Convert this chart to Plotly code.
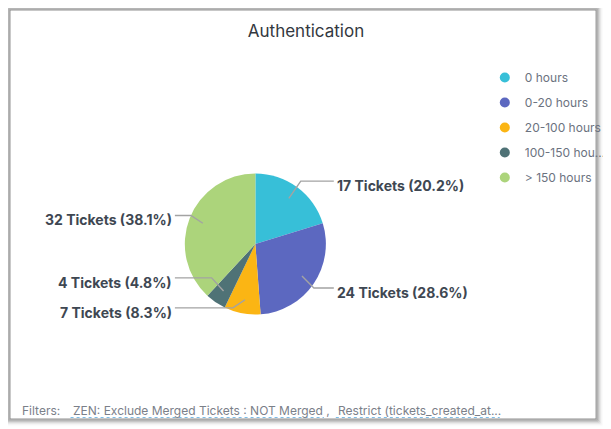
import math
import plotly.graph_objects as go

# ---------------- data ----------------
categories = ["0 hours", "0-20 hours", "20-100 hours", "100-150 hours", "> 150 hours"]
legend_labels = ["0 hours", "0-20 hours", "20-100 hours", "100-150 hou…", "> 150 hours"]
tickets = [17, 24, 7, 4, 32]
colors = ["#37bfd8", "#5c68c0", "#fbb514", "#4f7276", "#acd47b"]
title_text = "Authentication"
filter_label = "Filters:"
filters = ["ZEN: Exclude Merged Tickets : NOT Merged ,", "Restrict (tickets_created_at..."]

# ---------------- layout constants (page pixels) ----------------
PAGE_W, PAGE_H = 611, 429
OFF = 8                      # default body margin of the html page
W, H = PAGE_W - OFF, PAGE_H - OFF
CX, CY, R = 257, 244, 71
FONT = "Inter, 'Liberation Sans', Arial, sans-serif"


def fx(px):
    return (px - OFF) / W


def fy(py):
    return 1 - (py - OFF) / H


total = sum(tickets)
fig = go.Figure()

fig.add_trace(go.Pie(
    labels=categories, values=tickets, sort=False, direction="clockwise", rotation=0,
    marker=dict(colors=colors, line=dict(width=0)),
    textinfo="none", hoverinfo="label+value+percent", showlegend=False,
    domain=dict(x=[fx(CX - R), fx(CX + R)], y=[fy(CY + R), fy(CY - R)]),
))

# legend entries (circle symbols)
for name, col in zip(legend_labels, colors):
    fig.add_trace(go.Scatter(x=[None], y=[None], mode="markers", name=name, legendgroup=name,
                             marker=dict(color=col, size=10, symbol="circle"), hoverinfo="skip"))

shapes = []
annotations = []

# card frame with soft shadow
shadow = [(0, "rgba(125,125,125,0.85)"), (1, "rgba(130,130,130,0.8)"), (2, "rgba(140,140,140,0.7)"),
          (3, "rgba(155,155,155,0.5)"), (4, "rgba(170,170,170,0.35)"), (5, "rgba(190,190,190,0.22)"),
          (6, "rgba(210,210,210,0.14)"), (7, "rgba(230,230,230,0.08)")]
for off, col in shadow:
    shapes.append(dict(type="rect", xref="x", yref="y", x0=10 - off, x1=600 + off, y0=10 - off, y1=419 + off,
                       line=dict(color=col, width=1), layer="below"))

# data labels with connectors, derived from slice angles
cum = 0
labels_info = []
for v in tickets:
    mid = (cum + v / 2) / total * 2 * math.pi
    cum += v
    s, c = math.sin(mid), math.cos(mid)
    side = 1 if s >= 0 else -1
    labels_info.append(dict(v=v, side=side, ix=CX + 0.8 * R * s, iy=CY - 0.8 * R * c, y=CY - 1.1 * R * c))

ymax = CY + 0.9 * R
gap = 30
for side in (1, -1):
    items = sorted([d for d in labels_info if d["side"] == side], key=lambda d: d["y"], reverse=True)
    limit = ymax
    for d in items:
        d["y"] = min(d["y"], limit)
        limit = d["y"] - gap

for d in labels_info:
    side = d["side"]
    lx_end = CX + 79 if side > 0 else CX - 81
    ex = d["ix"] + side * 12
    if side > 0:
        ex = min(ex, lx_end)
    else:
        ex = max(ex, lx_end)
    path = f"M {lx_end},{d['y']} L {ex},{d['y']} L {d['ix']},{d['iy']}"
    shapes.append(dict(type="path", xref="x", yref="y", path=path, line=dict(color="#a3a3a3", width=1.4)))
    pct = d["v"] / total * 100
    annotations.append(dict(
        x=lx_end + (1 if side > 0 else -1), y=d["y"] + 4.5, xref="x", yref="y",
        text=f"<b>{d['v']} Tickets ({pct:.1f}%)</b>", showarrow=False,
        xanchor="left" if side > 0 else "right", yanchor="middle",
        font=dict(family=FONT, size=14, color="#3e4752")))

# footer
annotations.append(dict(x=20, y=410, xref="x", yref="y", text=filter_label, showarrow=False,
                        xanchor="left", yanchor="middle", font=dict(family=FONT, size=12, color="#7b8089")))
f_start = [71, 338]
f_end = [326, 503]
for t, x0, x1 in zip(filters, f_start, f_end):
    annotations.append(dict(x=x0, y=410, xref="x", yref="y", text=t, showarrow=False,
                            xanchor="left", yanchor="middle", font=dict(family=FONT, size=12, color="#7b8089")))
    shapes.append(dict(type="line", xref="x", yref="y", x0=x0, x1=x1, y0=417.5, y1=417.5,
                       line=dict(color="#7cbbe6", width=1.2, dash="dot")))

fig.update_layout(
    width=W, height=H,
    margin=dict(l=0, r=0, t=0, b=0),
    paper_bgcolor="white", plot_bgcolor="rgba(0,0,0,0)",
    title=dict(text=title_text, x=fx(306), xanchor="center", y=fy(31), yanchor="middle",
               font=dict(family=FONT, size=17, color="#333840")),
    xaxis=dict(range=[OFF, PAGE_W], visible=False, fixedrange=True),
    yaxis=dict(range=[PAGE_H, OFF], visible=False, fixedrange=True),
    showlegend=True,
    legend=dict(x=fx(488), y=fy(63), xanchor="left", yanchor="top",
                font=dict(family=FONT, size=12, color="#6b7280"),
                tracegroupgap=6, traceorder="grouped", bgcolor="rgba(0,0,0,0)",
                itemclick=False, itemdoubleclick=False),
    shapes=shapes,
    annotations=annotations,
)

fig.write_html("out.html")
